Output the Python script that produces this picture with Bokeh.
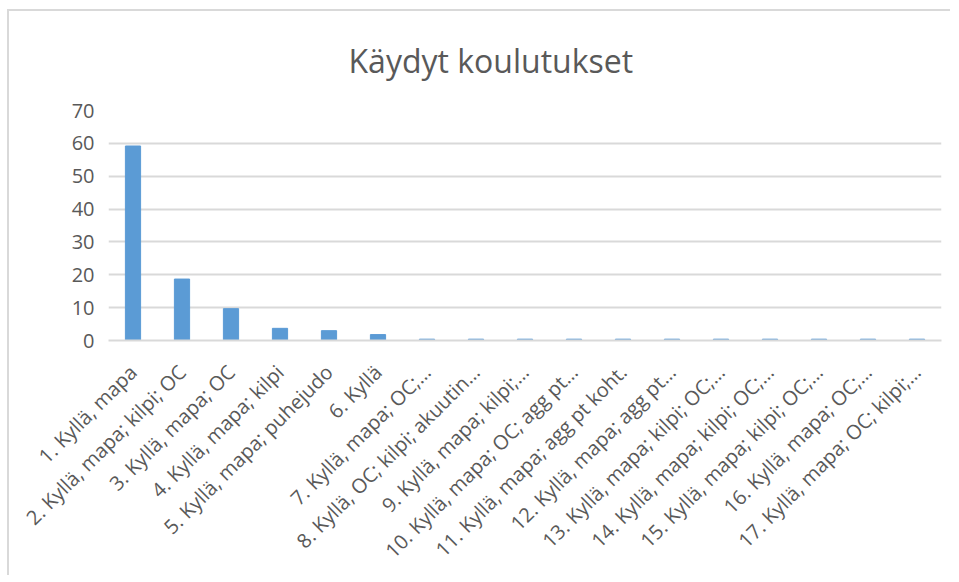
import math
from bokeh.plotting import figure
from bokeh.models import Range1d, FixedTicker, Title
from bokeh.embed import file_html
from bokeh.resources import INLINE

categories = [
    "1. Kyllä, mapa",
    "2. Kyllä, mapa; kilpi; OC",
    "3. Kyllä, mapa; OC",
    "4. Kyllä, mapa; kilpi",
    "5. Kyllä, mapa; puhejudo",
    "6. Kyllä",
    "7. Kyllä, mapa; OC;…",
    "8. Kyllä, OC; kilpi; akuutin…",
    "9. Kyllä, mapa; kilpi;…",
    "10. Kyllä, mapa; OC; agg pt…",
    "11. Kyllä, mapa; agg pt koht.",
    "12. Kyllä, mapa; agg pt…",
    "13. Kyllä, mapa; kilpi; OC;…",
    "14. Kyllä, mapa; kilpi; OC;…",
    "15. Kyllä, mapa; kilpi; OC;…",
    "16. Kyllä, mapa; OC;…",
    "17. Kyllä, mapa; OC; kilpi;…",
]
values = [59.2, 18.7, 9.7, 3.7, 3.0, 1.8, 0.4, 0.4, 0.4, 0.4, 0.4, 0.4, 0.4, 0.4, 0.4, 0.4, 0.4]
y_ticks = [0, 10, 20, 30, 40, 50, 60, 70]
title_text = "Käydyt koulutukset"

TXT = "#595959"
FONT = "Open Sans"

p = figure(
    x_range=categories,
    y_range=Range1d(0, 70),
    width=943,
    height=566,
    output_backend="svg",
    toolbar_location=None,
    min_border_left=99,
    min_border_right=11,
    min_border_top=99,
    min_border_bottom=237,
    margin=(9, 0, 0, 7),
    styles={"border-top": "2px solid #d9d9d9", "border-left": "2px solid #d9d9d9"},
)
p.outline_line_color = None

t = Title(text=title_text, align="left", offset=240, vertical_align="top",
          text_font=FONT, text_font_size="32px", text_font_style="normal",
          text_color=TXT, standoff=54)
p.add_layout(t, "above")

p.vbar(x=categories, top=values, width=0.31, color="#5b9bd5")

p.yaxis.ticker = FixedTicker(ticks=y_ticks)
p.yaxis.axis_line_color = None
p.yaxis.major_tick_line_color = None
p.yaxis.minor_tick_line_color = None
p.yaxis.major_label_text_font = FONT
p.yaxis.major_label_text_font_size = "20px"
p.yaxis.major_label_text_color = TXT
p.yaxis.major_label_standoff = 8

p.xaxis.axis_line_color = "#d9d9d9"
p.xaxis.axis_line_width = 2
p.xaxis.major_tick_line_color = None
p.xaxis.minor_tick_line_color = None
p.xaxis.major_label_orientation = math.pi / 4
p.xaxis.major_label_text_font = FONT
p.xaxis.major_label_text_font_size = "20px"
p.xaxis.major_label_text_color = TXT
p.xaxis.major_label_standoff = 22

p.xgrid.grid_line_color = None
p.ygrid.grid_line_color = "#d9d9d9"
p.ygrid.grid_line_width = 2

open("out.html", "w").write(file_html(p, INLINE))
